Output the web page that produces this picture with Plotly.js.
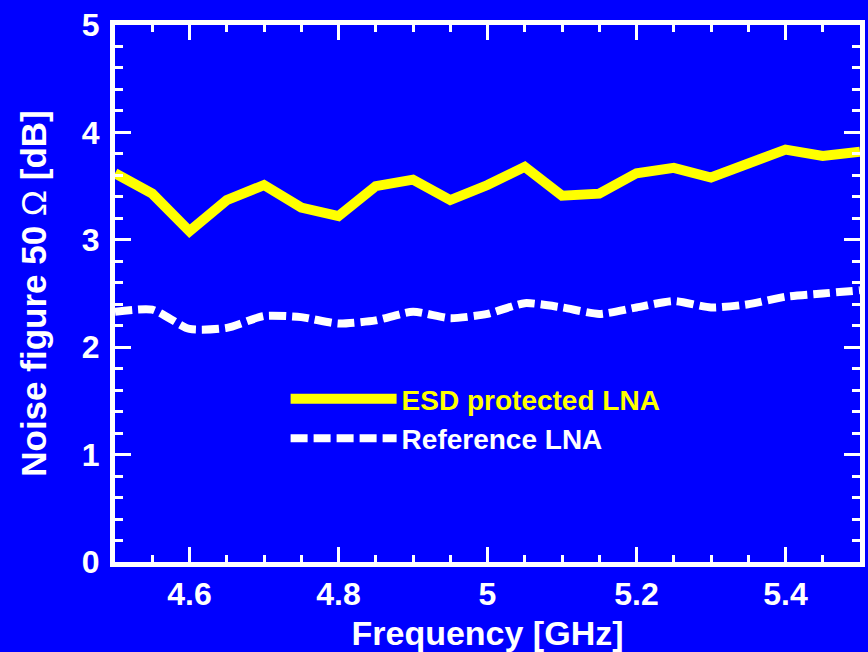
<!DOCTYPE html>
<html>
<head>
<meta charset="utf-8">
<script src="https://cdn.plot.ly/plotly-3.0.1.min.js"></script>
<style>html,body{margin:0;padding:0;background:#0000ff;}#chart{width:868px;height:652px;}</style>
</head>
<body>
<div id="chart"></div>
<script>
var freq = [4.5, 4.55, 4.6, 4.65, 4.7, 4.75, 4.8, 4.85, 4.9, 4.95, 5.0, 5.05, 5.1, 5.15, 5.2, 5.25, 5.3, 5.35, 5.4, 5.45, 5.5];
var esdNF = [3.62, 3.43, 3.08, 3.37, 3.51, 3.30, 3.22, 3.50, 3.56, 3.37, 3.51, 3.68, 3.41, 3.43, 3.62, 3.67, 3.58, 3.72, 3.84, 3.78, 3.82];
var refNF = [2.33, 2.35, 2.17, 2.18, 2.29, 2.28, 2.22, 2.25, 2.33, 2.27, 2.31, 2.41, 2.37, 2.31, 2.37, 2.43, 2.37, 2.40, 2.47, 2.50, 2.53];
var seriesNames = ['ESD protected LNA', 'Reference LNA'];
var xTickVals = [4.6, 4.8, 5.0, 5.2, 5.4];
var xTickText = ['4.6', '4.8', '5', '5.2', '5.4'];
var yTickVals = [0, 1, 2, 3, 4, 5];

var FONT = 'Liberation Sans, Arial, Helvetica, sans-serif';

var traces = [
  {
    x: freq, y: esdNF, type: 'scatter', mode: 'lines',
    name: '<span style="color:#ffff00">' + seriesNames[0] + '</span>',
    line: {color: '#ffff00', width: 10}
  },
  {
    x: freq, y: refNF, type: 'scatter', mode: 'lines',
    name: seriesNames[1],
    line: {color: '#ffffff', width: 8, dash: '17px,6px', shape: 'spline', smoothing: 0.6}
  }
];

var axisCommon = {
  showgrid: false, zeroline: false,
  showline: true, linecolor: '#ffffff', linewidth: 5,
  mirror: 'ticks', ticks: 'inside', tickcolor: '#ffffff', tickwidth: 3,
  tickfont: {family: FONT, size: 32, color: '#ffffff', weight: 'bold'}
};

var layout = {
  width: 868, height: 652,
  paper_bgcolor: '#0000ff', plot_bgcolor: '#0000ff',
  margin: {l: 115, r: 8, t: 25, b: 90},
  showlegend: true,
  legend: {
    x: 0.229, y: 0.35, xanchor: 'left', yanchor: 'top',
    bgcolor: 'rgba(0,0,0,0)', borderwidth: 0,
    itemwidth: 106, tracegroupgap: 0,
    font: {family: FONT, size: 28, color: '#ffffff', weight: 'bold'}
  },
  xaxis: Object.assign({}, axisCommon, {
    range: [4.5, 5.5],
    tickmode: 'array', tickvals: xTickVals, ticktext: xTickText,
    ticklen: 15,
    minor: {dtick: 0.05, tick0: 4.5, ticklen: 7, tickwidth: 3, tickcolor: '#ffffff', ticks: 'inside'},
    title: {text: 'Frequency [GHz]', standoff: 11, font: {family: FONT, size: 34, color: '#ffffff', weight: 'bold'}}
  }),
  yaxis: Object.assign({}, axisCommon, {
    range: [0, 5],
    tickmode: 'array', tickvals: yTickVals,
    ticklen: 16,
    ticklabelstandoff: 4,
    minor: {dtick: 0.2, tick0: 0, ticklen: 8, tickwidth: 3, tickcolor: '#ffffff', ticks: 'inside'},
    title: {text: 'Noise figure 50 <span style="font-weight:normal">Ω</span> [dB]', standoff: 26, font: {family: FONT, size: 35, color: '#ffffff', weight: 'bold'}}
  })
};

Plotly.newPlot('chart', traces, layout, {displayModeBar: false, staticPlot: true});
</script>
</body>
</html>
